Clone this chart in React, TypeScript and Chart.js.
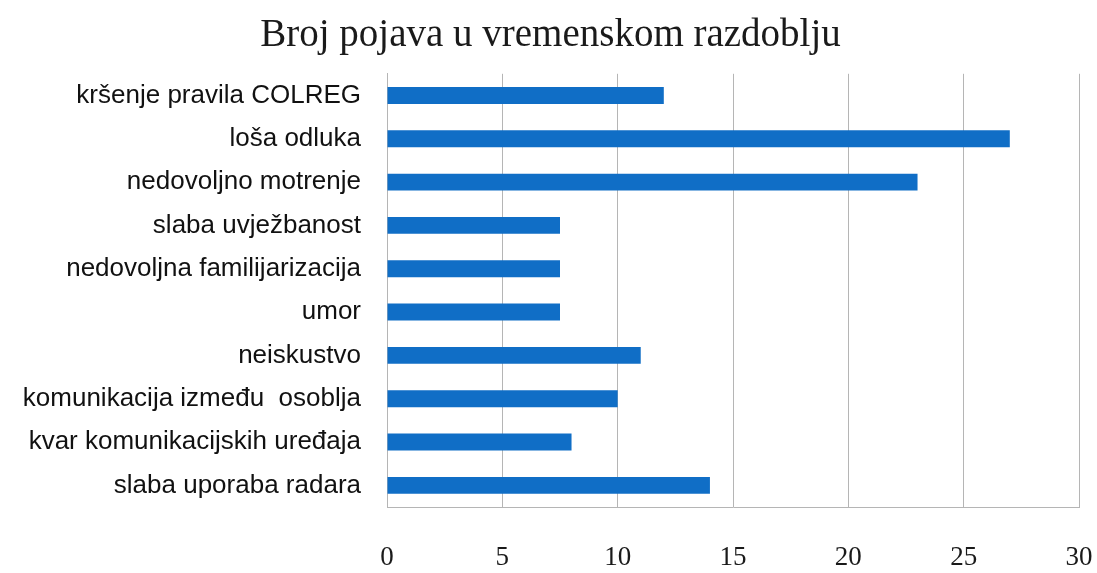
import React, { useEffect, useRef } from "react";
import { Chart, registerables } from "chart.js";

Chart.register(...registerables);

const titleText = "Broj pojava u vremenskom razdoblju";
const categories = [
  "kršenje pravila COLREG",
  "loša odluka",
  "nedovoljno motrenje",
  "slaba uvježbanost",
  "nedovoljna familijarizacija",
  "umor",
  "neiskustvo",
  "komunikacija između  osoblja",
  "kvar komunikacijskih uređaja",
  "slaba uporaba radara",
];
const counts = [12, 27, 23, 7.5, 7.5, 7.5, 11, 10, 8, 14];
const xMin = 0;
const xMax = 30;
const xStep = 5;

export default function App() {
  const canvasRef = useRef<HTMLCanvasElement | null>(null);

  useEffect(() => {
    if (!canvasRef.current) return;
    const chart = new Chart(canvasRef.current, {
      type: "bar",
      data: {
        labels: categories,
        datasets: [
          {
            data: counts,
            backgroundColor: "#106ec6",
            borderWidth: 0,
            categoryPercentage: 1,
            barPercentage: 0.39,
          },
        ],
      },
      options: {
        indexAxis: "y",
        animation: false,
        responsive: true,
        maintainAspectRatio: false,
        layout: { padding: { left: 22, right: 18, top: 0, bottom: 0 } },
        plugins: {
          legend: { display: false },
          tooltip: { enabled: false },
          title: {
            display: true,
            text: titleText,
            color: "#1a1a1a",
            font: { family: "'Liberation Serif', serif", size: 39, weight: "normal" },
            padding: { top: 12, bottom: 15 },
          },
        },
        scales: {
          x: {
            min: xMin,
            max: xMax,
            ticks: {
              stepSize: xStep,
              color: "#1a1a1a",
              padding: 35,
              font: { family: "'Liberation Serif', serif", size: 27 },
            },
            grid: { color: "#b5b5b5", lineWidth: 1, drawTicks: false },
            border: { display: true, color: "#b5b5b5", width: 1 },
            afterFit: (scale: any) => {
              scale.height = 66;
              scale.paddingLeft = 0;
              scale.paddingRight = 0;
            },
          },
          y: {
            ticks: {
              color: "#111111",
              padding: 26,
              autoSkip: false,
              font: { family: "'Liberation Sans', Arial, sans-serif", size: 26 },
            },
            grid: { display: false, drawTicks: false },
            border: { display: true, color: "#b5b5b5", width: 1 },
            afterFit: (scale: any) => {
              scale.width = 365;
            },
          },
        },
      },
    });
    return () => chart.destroy();
  }, []);

  return (
    <div style={{ position: "absolute", left: 0, top: 0, width: 1097, height: 573, background: "#ffffff" }}>
      <canvas ref={canvasRef} />
    </div>
  );
}
